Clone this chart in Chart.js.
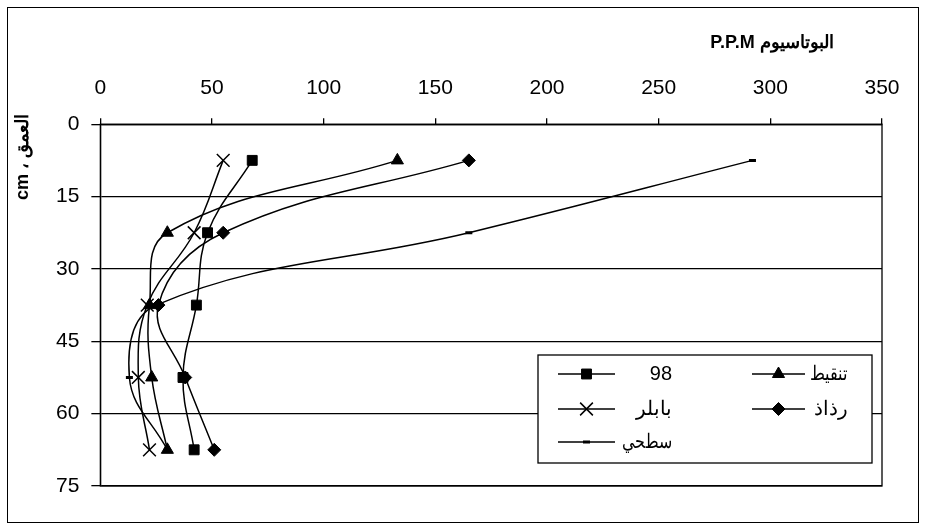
<!DOCTYPE html>
<html>
<head>
<meta charset="utf-8">
<script src="https://cdn.jsdelivr.net/npm/chart.js@4.4.0/dist/chart.umd.min.js"></script>
<style>
  html, body { margin: 0; padding: 0; background: #fff; }
  #wrap { width: 926px; height: 531px; position: relative; }
</style>
</head>
<body>
<div id="wrap"><canvas id="myChart" width="926" height="531"></canvas></div>
<script>
// depth (cm) of each sample
const depths = [7.5, 22.5, 37.5, 52.5, 67.5];
// potassium ppm per irrigation type
const s98 = [68, 48, 43, 37, 42];
const tanqeet = [133, 30, 22, 23, 30];
const babler = [55, 42, 21, 17, 22];
const rathath = [165, 55, 26, 38, 51];
const sathi = [292, 165, 25, 13, 30];

const xTicks = [0, 50, 100, 150, 200, 250, 300, 350];
const yTicks = [0, 15, 30, 45, 60, 75];

const xTitle = 'البوتاسيوم P.P.M';
const yTitle = 'العمق ، cm';

function pts(vals) {
    return vals.map((v, i) => ({ x: v, y: depths[i] }));
}

function series(label, vals, style, radius, fill, bw) {
    return {
        label: label,
        data: pts(vals),
        showLine: true,
        tension: 0.4,
        borderColor: '#000',
        borderWidth: 1.5,
        pointStyle: style,
        pointRadius: radius,
        pointHoverRadius: radius,
        pointBackgroundColor: fill ? '#000' : '#fff',
        pointBorderColor: '#000',
        pointBorderWidth: bw
    };
}

const datasets = [
    series('98', s98, 'rect', 7, true, 1),
    series('تنقيط', tanqeet, 'triangle', 7, true, 1),
    series('بابلر', babler, 'crossRot', 9, false, 1.5),
    series('رذاذ', rathath, 'rectRot', 6.5, true, 1),
    series('سطحي', sathi, 'line', 3.5, true, 3)
];

// legend slots: [dataset index, line start x, line end x, text right x, y, text max width]
const legendSlots = [
    [0, 558, 615, 672, 374, 50],
    [1, 752, 805, 848, 374, 38],
    [2, 558, 615, 672, 409, 50],
    [3, 752, 805, 848, 409, 38],
    [4, 558, 615, 672, 442, 50]
];

function drawMarker(ctx, ds, x, y) {
    const opts = {
        pointStyle: ds.pointStyle,
        radius: ds.pointRadius,
        borderWidth: ds.pointBorderWidth,
        rotation: 0
    };
    ctx.save();
    ctx.fillStyle = ds.pointBackgroundColor;
    ctx.strokeStyle = ds.pointBorderColor;
    ctx.lineWidth = ds.pointBorderWidth;
    Chart.helpers.drawPoint(ctx, opts, x, y);
    ctx.restore();
}

const framePlugin = {
    id: 'frame',
    beforeDatasetsDraw(chart) {
        const ctx = chart.ctx, a = chart.chartArea;
        ctx.save();
        ctx.strokeStyle = '#000';
        ctx.lineWidth = 1.3;
        ctx.strokeRect(a.left, a.top, a.right - a.left, a.bottom - a.top);
        ctx.restore();
    },
    afterDraw(chart) {
        const ctx = chart.ctx;
        ctx.save();
        // outer border
        ctx.strokeStyle = '#000';
        ctx.lineWidth = 1;
        ctx.strokeRect(7.5, 7.5, 911, 515);

        // axis titles
        ctx.fillStyle = '#000';
        ctx.font = 'bold 18px "Liberation Sans", Arial, sans-serif';
        ctx.direction = 'rtl';
        ctx.textAlign = 'center';
        ctx.textBaseline = 'middle';
        ctx.fillText(xTitle, 772, 43);
        ctx.save();
        ctx.translate(23, 157);
        ctx.rotate(-Math.PI / 2);
        ctx.fillText(yTitle, 0, 0);
        ctx.restore();

        // legend box
        ctx.fillStyle = '#fff';
        ctx.fillRect(538, 355, 334, 108);
        ctx.strokeStyle = '#000';
        ctx.lineWidth = 1.3;
        ctx.strokeRect(538, 355, 334, 108);

        ctx.font = '20px "Liberation Sans", Arial, sans-serif';
        ctx.textAlign = 'right';
        for (const s of legendSlots) {
            const ds = chart.data.datasets[s[0]];
            ctx.strokeStyle = '#000';
            ctx.lineWidth = 1.5;
            ctx.beginPath();
            ctx.moveTo(s[1], s[4]);
            ctx.lineTo(s[2], s[4]);
            ctx.stroke();
            drawMarker(ctx, ds, (s[1] + s[2]) / 2, s[4]);
            ctx.fillStyle = '#000';
            ctx.fillText(ds.label, s[3], s[4], s[5]);
        }
        ctx.restore();
    }
};

const config = {
    type: 'scatter',
    data: { datasets: datasets },
    options: {
        responsive: false,
        animation: false,
        events: [],
        layout: { padding: { left: 44, top: 59, right: 44, bottom: 45 } },
        plugins: {
            legend: { display: false },
            tooltip: { enabled: false }
        },
        scales: {
            x: {
                type: 'linear',
                position: 'top',
                min: 0,
                max: 350,
                afterBuildTicks: s => { s.ticks = xTicks.map(v => ({ value: v })); },
                ticks: {
                    color: '#000',
                    padding: 17,
                    maxRotation: 0,
                    font: { family: '"Liberation Sans", Arial, sans-serif', size: 21 }
                },
                grid: {
                    drawOnChartArea: false,
                    drawTicks: true,
                    tickLength: 6,
                    color: '#000',
                    lineWidth: 1.3
                },
                border: { display: true, color: '#000', width: 1.3 }
            },
            y: {
                type: 'linear',
                reverse: true,
                min: 0,
                max: 75,
                afterBuildTicks: s => { s.ticks = yTicks.map(v => ({ value: v })); },
                ticks: {
                    color: '#000',
                    padding: 12,
                    font: { family: '"Liberation Sans", Arial, sans-serif', size: 21 }
                },
                grid: {
                    drawTicks: true,
                    tickLength: 9,
                    color: '#000',
                    lineWidth: 1.3
                },
                border: { display: true, color: '#000', width: 1.3 }
            }
        }
    },
    plugins: [framePlugin]
};

const myChart = new Chart(document.getElementById('myChart'), config);
</script>
</body>
</html>
